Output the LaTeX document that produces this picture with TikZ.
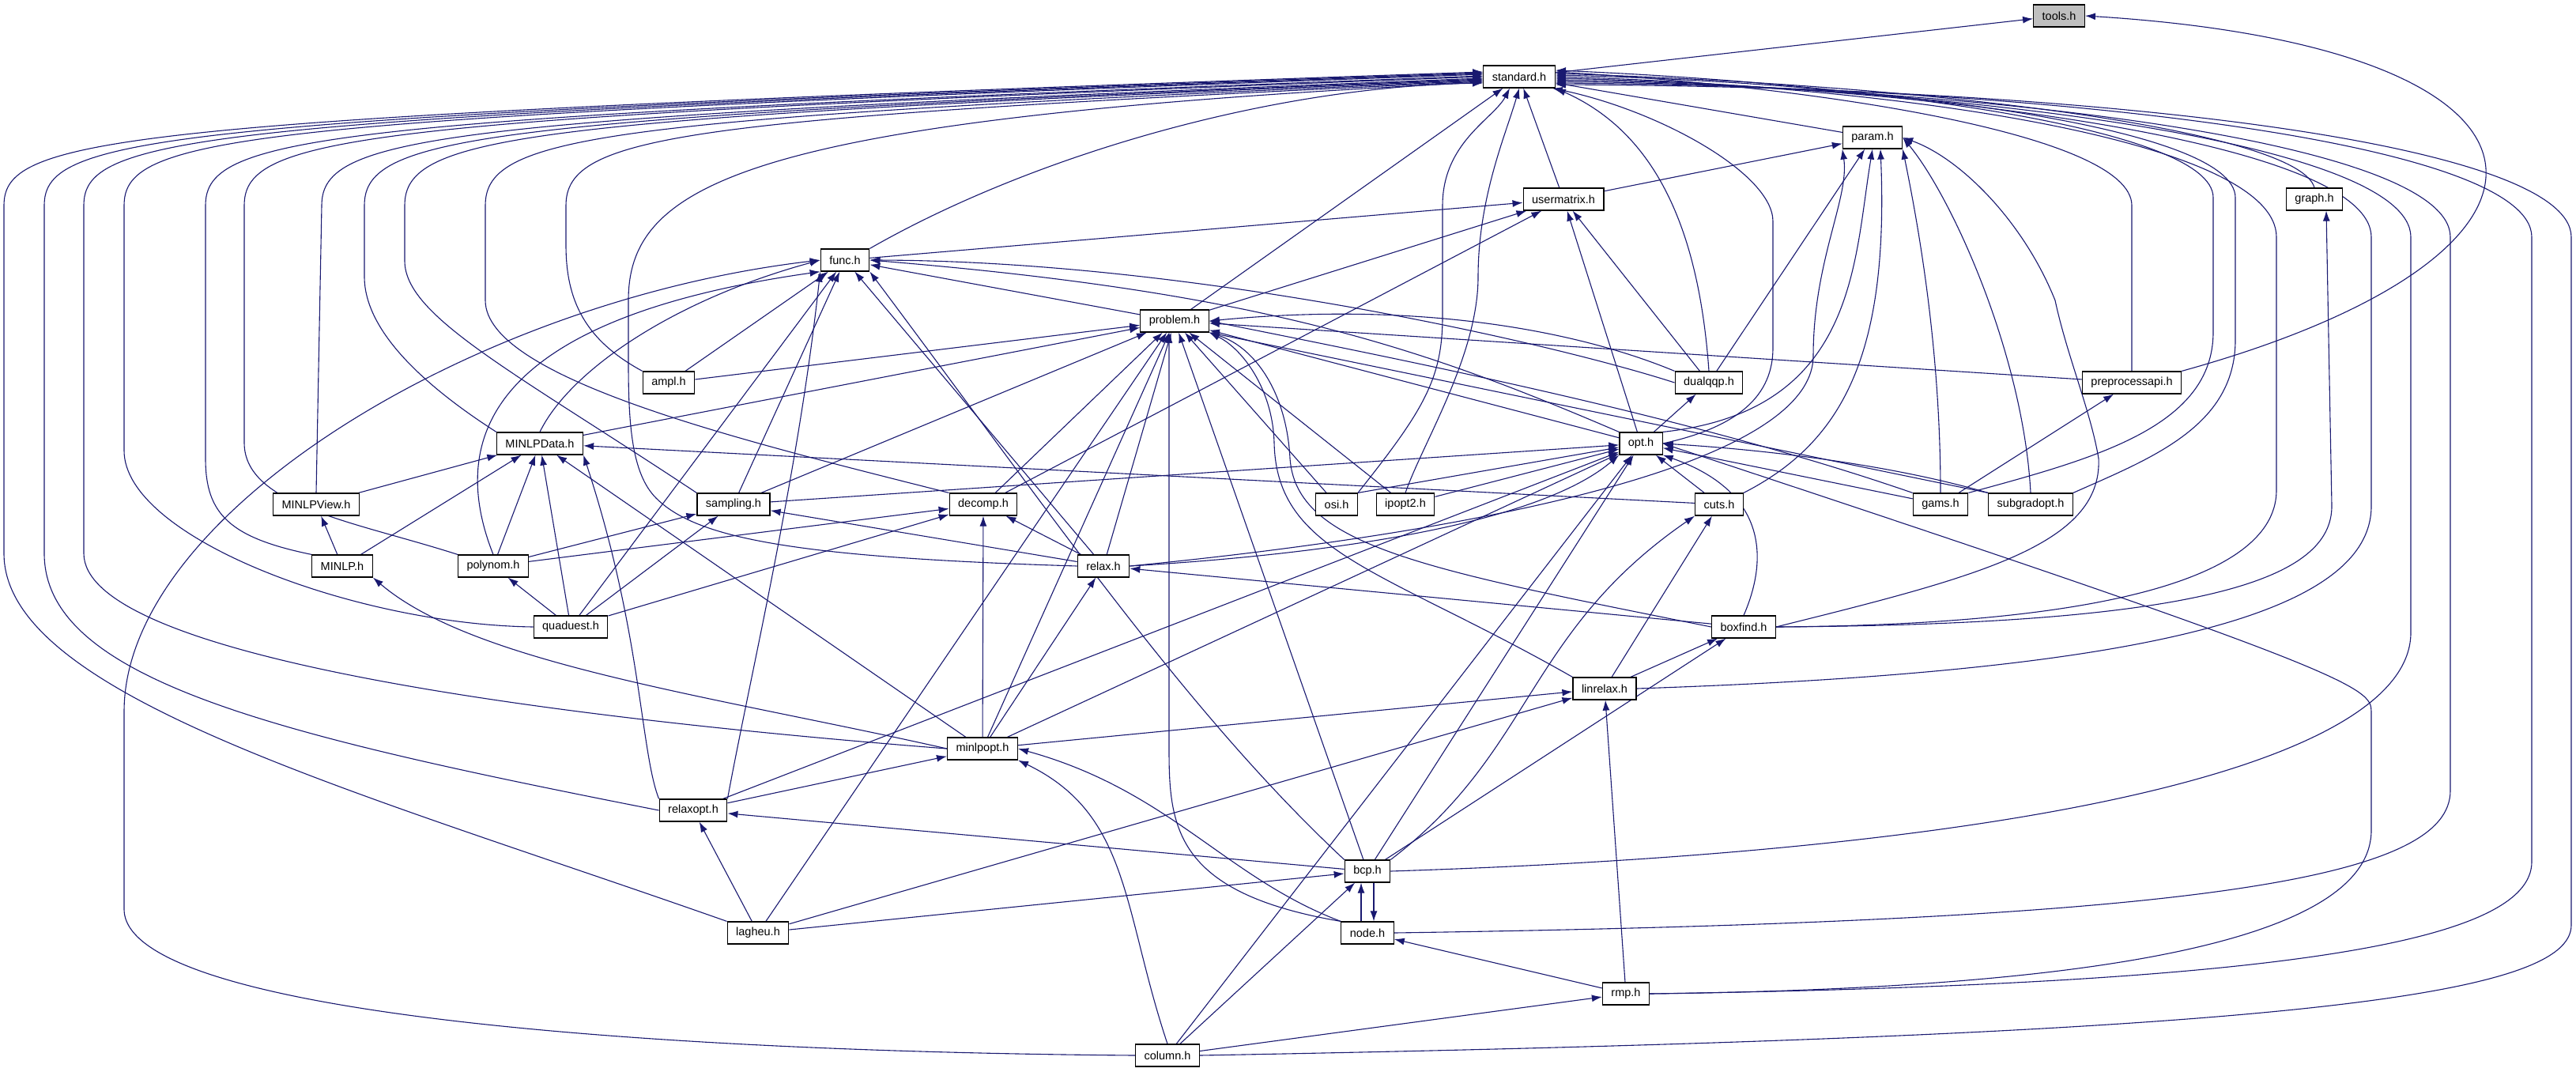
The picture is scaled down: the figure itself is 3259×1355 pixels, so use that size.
\documentclass[tikz,border=0pt]{standalone}
\usepackage{fontspec}
\setmainfont{Liberation Sans}
\usetikzlibrary{arrows.meta}
\definecolor{edgeblue}{HTML}{191970}
\pgfdeclarelayer{edges}
\pgfsetlayers{edges,main}
\tikzset{
  hdr/.style={draw=black, line width=1.2pt, fill=white, minimum height=28pt,
    inner xsep=11pt, inner ysep=0pt, font=\fontsize{14.5}{17}\selectfont},
  dep/.style={draw=edgeblue, line width=1.1pt, -{Latex[length=13pt,width=9pt]}}
}
\begin{document}
\begin{tikzpicture}[x=1pt,y=-1pt]
			%%%%% START %%%%%
			\useasboundingbox (0,0) rectangle (3259,1355);

			\node[hdr, fill=black!25] (tools) at (2605,20) {tools.h};
			\node[hdr] (standard) at (1922,97) {standard.h};
			\node[hdr] (param) at (2369,174) {param.h};
			\node[hdr] (usermatrix) at (1978,252) {usermatrix.h};
			\node[hdr] (graph) at (2928,252) {graph.h};
			\node[hdr] (func) at (1069,329) {func.h};
			\node[hdr] (problem) at (1486,406) {problem.h};
			\node[hdr] (ampl) at (846,484) {ampl.h};
			\node[hdr] (dualqqp) at (2162,484) {dualqqp.h};
			\node[hdr] (preproc) at (2697,484) {preprocessapi.h};
			\node[hdr] (minlpdata) at (683,561) {MINLPData.h};
			\node[hdr] (opt) at (2076,561) {opt.h};
			\node[hdr] (minlpview) at (400,638) {MINLPView.h};
			\node[hdr] (sampling) at (928,638) {sampling.h};
			\node[hdr] (decomp) at (1244,638) {decomp.h};
			\node[hdr] (osi) at (1691,638) {osi.h};
			\node[hdr] (ipopt) at (1778,638) {ipopt2.h};
			\node[hdr] (cuts) at (2175,638) {cuts.h};
			\node[hdr] (gams) at (2455,638) {gams.h};
			\node[hdr] (subgradopt) at (2569,638) {subgradopt.h};
			\node[hdr] (minlp) at (433,716) {MINLP.h};
			\node[hdr] (polynom) at (624,716) {polynom.h};
			\node[hdr] (relax) at (1396,716) {relax.h};
			\node[hdr] (quaduest) at (722,793) {quaduest.h};
			\node[hdr] (boxfind) at (2206,793) {boxfind.h};
			\node[hdr] (linrelax) at (2030,871) {linrelax.h};
			\node[hdr] (minlpopt) at (1243,947) {minlpopt.h};
			\node[hdr] (relaxopt) at (877,1025) {relaxopt.h};
			\node[hdr] (bcp) at (1730,1102) {bcp.h};
			\node[hdr] (lagheu) at (959,1180) {lagheu.h};
			\node[hdr] (nodeh) at (1730,1180) {node.h};
			\node[hdr] (rmp) at (2057,1257) {rmp.h};
			\node[hdr] (column) at (1477,1335) {column.h};

			\begin{pgfonlayer}{edges}
			% top
			\draw[dep] (standard) -- (tools);
			\draw[dep] (preproc.north east) .. controls (3300,320) and (3280,60) .. (tools.east);
			\draw[dep] (param) -- (standard);
			\draw[dep] (usermatrix) -- (standard);
			\draw[dep] (usermatrix) -- (param);
			\draw[dep] (graph.north) .. controls (2910,170) and (2500,110) .. ([yshift=4pt]standard.east);
			\draw[dep] (func.north east) .. controls (1300,200) and (1600,110) .. ([yshift=-8pt]standard.west);
			\draw[dep] (func) -- (usermatrix);
			\draw[dep] (problem) -- (standard);
			\draw[dep] (problem) -- (usermatrix);
			\draw[dep] (problem) -- (func);

			\draw[dep] (ampl.north west) .. controls (740,430) and (716,380) .. (716,310) -- (716,260) .. controls (716,170) and (866,150) .. ([yshift=-6pt]standard.west);
			\draw[dep] (ampl) -- (func);
			\draw[dep] (ampl) -- (problem);

			\draw[dep] (dualqqp.north) .. controls (2150,300) and (2100,170) .. (standard.south east);
			\draw[dep] (dualqqp) -- (usermatrix);
			\draw[dep] (dualqqp) -- (param);
			\draw[dep] (dualqqp.west) .. controls (1950,430) and (1500,330) .. (func.east);
			\draw[dep] (dualqqp.north west) .. controls (2000,420) and (1800,380) .. (problem.east);

			\draw[dep] (preproc.north) -- (2697,260) .. controls (2697,170) and (2300,110) .. ([yshift=6pt]standard.east);
			\draw[dep] (preproc) -- (problem);

			\draw[dep] (minlpdata.north west) .. controls (540,490) and (461,420) .. (461,350) -- (461,260) .. controls (461,170) and (611,150) .. ([yshift=-3pt]standard.west);
			\draw[dep] (minlpdata.north) .. controls (720,470) and (850,380) .. (func.west);
			\draw[dep] (minlpdata) -- (problem);

			\draw[dep] (opt.east) .. controls (2200,540) and (2243,500) .. (2243,440) -- (2243,280) .. controls (2243,220) and (2100,140) .. ([xshift=-4pt]standard.south east);
			\draw[dep] (opt) -- (usermatrix);
			\draw[dep] (opt.north east) .. controls (2350,520) and (2345,330) .. (param.south);
			\draw[dep] (opt) -- (dualqqp);
			\draw[dep] (opt) -- (problem);
			\draw[dep] (opt.north west) .. controls (1800,440) and (1600,370) .. (func.east);

			% middle
			\draw[dep] (minlpview.north) -- (407,260) .. controls (407,170) and (557,150) .. ([yshift=-2pt]standard.west);
			\draw[dep] (minlpview) -- (minlpdata);

			\draw[dep] (sampling.north west) .. controls (650,470) and (512,400) .. (512,330) -- (512,260) .. controls (512,170) and (662,150) .. ([yshift=-4pt]standard.west);
			\draw[dep] (sampling) -- (func);
			\draw[dep] (sampling) -- (problem);
			\draw[dep] (sampling) -- (opt);

			\draw[dep] (decomp.north west) .. controls (950,560) and (614,480) .. (614,380) -- (614,260) .. controls (614,170) and (764,150) .. ([yshift=-5pt]standard.west);
			\draw[dep] (decomp) -- (usermatrix);
			\draw[dep] (decomp) -- (problem);

			\draw[dep] (osi.north east) .. controls (1800,520) and (1825,480) .. (1825,400) -- (1825,260) .. controls (1825,180) and (1890,150) .. ([xshift=-12pt]standard.south);
			\draw[dep] (osi) -- (problem);
			\draw[dep] (osi.north east) -- (opt);

			\draw[dep] (ipopt.north) .. controls (1800,560) and (1870,450) .. (1870,350) .. controls (1870,250) and (1905,170) .. (standard.south);
			\draw[dep] (ipopt) -- (problem);
			\draw[dep] (ipopt) -- (opt);

			\draw[dep] (cuts) -- (minlpdata);
			\draw[dep] (cuts.north east) .. controls (2330,560) and (2390,450) .. ([xshift=10pt]param.south);
			\draw[dep] (cuts) -- (opt);

			\draw[dep] (gams.north east) .. controls (2650,580) and (2800,540) .. (2800,420) -- (2800,250) .. controls (2800,160) and (2350,105) .. ([yshift=8pt]standard.east);
			\draw[dep] (gams.north) .. controls (2455,450) and (2430,300) .. (param.south east);
			\draw[dep] (gams) -- (preproc);
			\draw[dep] (gams) -- (opt);
			\draw[dep] (gams.north west) .. controls (2150,530) and (1800,460) .. (problem.east);

			\draw[dep] (subgradopt.north east) .. controls (2720,580) and (2828,540) .. (2828,430) -- (2828,250) .. controls (2828,160) and (2380,105) .. ([yshift=2pt]standard.east);
			\draw[dep] (subgradopt.north) .. controls (2560,450) and (2470,250) .. (param.east);
			\draw[dep] (subgradopt.north west) .. controls (2400,590) and (2250,570) .. (opt.east);
			\draw[dep] (subgradopt.north west) -- (problem.south east);

			\draw[dep] (minlp.north west) .. controls (290,680) and (260,650) .. (260,580) -- (260,260) .. controls (260,170) and (410,150) .. ([yshift=1pt]standard.west);
			\draw[dep] (minlp) -- (minlpdata);
			\draw[dep] (minlp) -- (minlpview);

			\draw[dep] (polynom.north west) .. controls (450,660) and (309,640) .. (309,560) -- (309,260) .. controls (309,170) and (459,150) .. (standard.west);
			\draw[dep] (polynom.north) .. controls (560,540) and (640,400) .. (func.south west);
			\draw[dep] (polynom) -- (minlpdata);
			\draw[dep] (polynom) -- (sampling);
			\draw[dep] (polynom) -- (decomp);

			\draw[dep] (relax.west) .. controls (1000,705) and (880,680) .. (830,630) .. controls (800,600) and (795,540) .. (795,460) -- (795,380) .. controls (795,230) and (950,150) .. ([yshift=-7pt]standard.west);
			\draw[dep] (relax) -- (func);
			\draw[dep] (relax) -- (problem);
			\draw[dep] (relax.east) .. controls (1800,680) and (2294,600) .. (2294,450) .. controls (2294,330) and (2340,250) .. (param.south west);
			\draw[dep] (relax.east) .. controls (1700,700) and (1950,660) .. (opt.south west);
			\draw[dep] (relax) -- (sampling);
			\draw[dep] (relax) -- (decomp);

			\draw[dep] (quaduest.west) .. controls (450,790) and (157,680) .. (157,570) -- (157,260) .. controls (157,170) and (307,150) .. ([yshift=3pt]standard.west);
			\draw[dep] (quaduest) -- (func);
			\draw[dep] (quaduest) -- (minlpdata);
			\draw[dep] (quaduest) -- (polynom);
			\draw[dep] (quaduest) -- (sampling);
			\draw[dep] (quaduest) -- (decomp);

			\draw[dep] (boxfind.east) .. controls (2700,790) and (2880,720) .. (2880,620) -- (2880,300) .. controls (2880,180) and (2420,110) .. (standard.east);
			\draw[dep] (boxfind.east) .. controls (2800,790) and (2950,730) .. (2950,640) -- ([xshift=15pt]graph.south);
			\draw[dep] (boxfind.east) .. controls (2500,730) and (2660,690) .. (2655,580) .. controls (2645,520) and (2615,450) .. (2600,380) .. controls (2560,280) and (2480,200) .. (param.east);
			\draw[dep] (boxfind.west) .. controls (1800,720) and (1640,690) .. (1632,580) .. controls (1628,500) and (1590,440) .. (problem.south east);
			\draw[dep] (boxfind.north) .. controls (2240,700) and (2230,620) .. (opt.south east);
			\draw[dep] (boxfind) -- (relax);

			\draw[dep] (linrelax.east) .. controls (2700,850) and (3000,780) .. (3000,640) -- (3000,300) .. controls (3000,180) and (2450,110) .. ([yshift=-2pt]standard.east);
			\draw[dep] (linrelax.north west) .. controls (1750,720) and (1615,700) .. (1612,560) .. controls (1610,490) and (1570,440) .. (problem.south east);
			\draw[dep] (linrelax) -- (cuts);
			\draw[dep] (linrelax) -- (boxfind);

			% bottom
			\draw[dep] (minlpopt.west) .. controls (600,900) and (106,820) .. (106,700) -- (106,260) .. controls (106,170) and (256,150) .. ([yshift=4pt]standard.west);
			\draw[dep] (minlpopt.west) .. controls (900,880) and (600,840) .. (minlp.south east);
			\draw[dep] (minlpopt) -- (minlpdata);
			\draw[dep] (minlpopt) -- (problem);
			\draw[dep] (minlpopt) -- (decomp);
			\draw[dep] (minlpopt) -- (relax);
			\draw[dep] (minlpopt) -- (opt);
			\draw[dep] (minlpopt) -- (linrelax);

			\draw[dep] (relaxopt.west) .. controls (350,930) and (56,860) .. (56,700) -- (56,260) .. controls (56,170) and (206,150) .. ([yshift=5pt]standard.west);
			\draw[dep] (relaxopt.north west) .. controls (810,950) and (812,800) .. (minlpdata.south east);
			\draw[dep] (relaxopt.north east) .. controls (950,850) and (1010,600) .. (func.south west);
			\draw[dep] (relaxopt) -- (minlpopt);
			\draw[dep] (relaxopt) -- (opt);

			\draw[dep] (lagheu.north west) .. controls (450,1000) and (5,880) .. (5,700) -- (5,260) .. controls (5,170) and (155,150) .. ([yshift=6pt]standard.west);
			\draw[dep] (lagheu) -- (problem);
			\draw[dep] (lagheu) -- (relaxopt);
			\draw[dep] (lagheu) -- (linrelax);
			\draw[dep] (lagheu) -- (bcp);

			\draw[dep] (bcp.east) .. controls (2600,1075) and (3050,960) .. (3050,800) -- (3050,300) .. controls (3050,180) and (2480,110) .. ([yshift=-4pt]standard.east);
			\draw[dep] (bcp.north west) .. controls (1500,900) and (1330,650) .. (func.south east);
			\draw[dep] (bcp) -- (problem);
			\draw[dep] (bcp) -- (relaxopt);
			\draw[dep] (bcp) -- (opt);
			\draw[dep] (bcp.north east) .. controls (1940,950) and (1930,800) .. (cuts.south west);
			\draw[dep] (bcp) -- (boxfind);
			\draw[dep] ([xshift=8pt]bcp.south) -- ([xshift=8pt]nodeh.north);

			\draw[dep] (nodeh.east) .. controls (2800,1165) and (3100,1110) .. (3100,1000) -- (3100,300) .. controls (3100,180) and (2520,110) .. ([yshift=-6pt]standard.east);
			\draw[dep] (nodeh.north west) .. controls (1490,1130) and (1479,1050) .. (1479,950) -- ([xshift=-7pt]problem.south);
			\draw[dep] (nodeh.north west) .. controls (1550,1110) and (1480,1000) .. (minlpopt.east);
			\draw[dep] ([xshift=-8pt]nodeh.north) -- ([xshift=-8pt]bcp.south);

			\draw[dep] (rmp.east) .. controls (2900,1245) and (3203,1190) .. (3203,1090) -- (3203,300) .. controls (3203,180) and (2600,110) .. ([yshift=-8pt]standard.east);
			\draw[dep] (rmp.east) .. controls (2700,1250) and (3000,1180) .. (3000,1050) -- (3000,900) .. controls (3000,870) and (2980,850) .. (opt.east);
			\draw[dep] (rmp) -- (linrelax);
			\draw[dep] (rmp) -- (nodeh);

			\draw[dep] (column.east) .. controls (2900,1310) and (3253,1260) .. (3253,1170) -- (3253,300) .. controls (3253,180) and (2650,110) .. ([yshift=-10pt]standard.east);
			\draw[dep] (column.west) .. controls (800,1330) and (157,1280) .. (157,1150) -- (157,900) .. controls (157,650) and (600,380) .. (func.west);
			\draw[dep] (column.north) .. controls (1420,1150) and (1430,1030) .. (minlpopt.south east);
			\draw[dep] (column) -- (bcp);
			\draw[dep] (column) -- (rmp);
			\draw[dep] (column) -- (opt);
			\end{pgfonlayer}
			%%%%% END %%%%%
\end{tikzpicture}
\end{document}
